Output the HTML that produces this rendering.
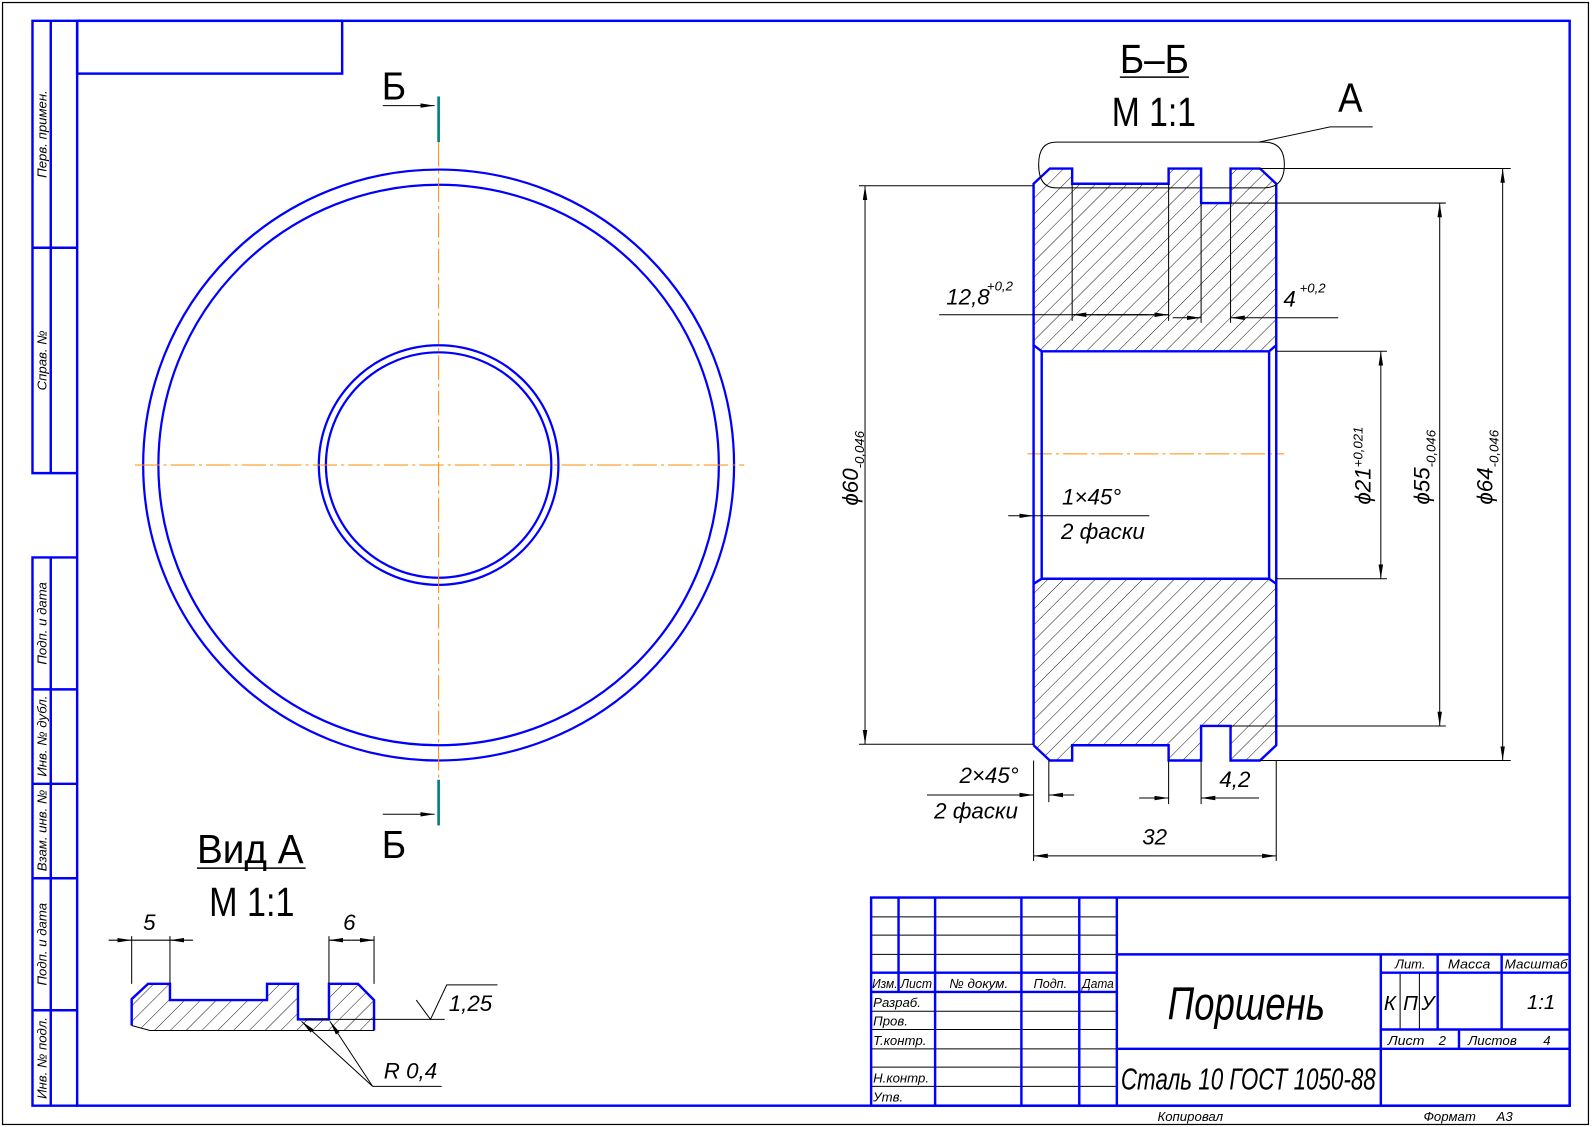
<!DOCTYPE html>
<html><head><meta charset="utf-8"><style>
html,body{margin:0;padding:0;background:#fff;overflow:hidden}
svg{display:block}
text{font-family:"Liberation Sans","DejaVu Sans",sans-serif;font-style:italic;fill:#000}
</style></head><body>
<svg width="1592" height="1127" viewBox="0 0 1568 1110" preserveAspectRatio="none" xmlns="http://www.w3.org/2000/svg">
<defs>
<pattern id="h" patternUnits="userSpaceOnUse" width="11" height="11" patternTransform="rotate(45)">
<line x1="0" y1="0" x2="0" y2="11" stroke="#000" stroke-width="0.9"/>
</pattern>
<marker id="a" viewBox="0 0 14 6" refX="14" refY="3" markerWidth="14" markerHeight="6" markerUnits="userSpaceOnUse" orient="auto-start-reverse">
<path d="M0,0.8 L14,3 L0,5.2 Z" fill="#000"/>
</marker>
</defs>

<rect x="2.5" y="2.5" width="1562" height="1105" fill="none" stroke="#000" stroke-width="1.2"/>

<g stroke="#0000ff" stroke-width="2.4" fill="none">
<rect x="76" y="20.5" width="1470" height="1068.5"/>
<rect x="76" y="20.5" width="261" height="52"/>
<path d="M76,20.5 H32 V466 H76 M50,20.5 V466 M32,244 H76"/>
<path d="M76,549 H32 V1089 H76 M50,549 V1089 M32,679 H76 M32,772 H76 M32,865 H76 M32,995 H76"/>
</g>
<g font-size="13">
<text transform="translate(46,132) rotate(-90)" text-anchor="middle">Перв. примен.</text>
<text transform="translate(46,355) rotate(-90)" text-anchor="middle">Справ. №</text>
<text transform="translate(46,614) rotate(-90)" text-anchor="middle">Подп. и дата</text>
<text transform="translate(46,725) rotate(-90)" text-anchor="middle">Инв. № дубл.</text>
<text transform="translate(46,818) rotate(-90)" text-anchor="middle">Взам. инв. №</text>
<text transform="translate(46,930) rotate(-90)" text-anchor="middle">Подп. и дата</text>
<text transform="translate(46,1042) rotate(-90)" text-anchor="middle">Инв. № подл.</text>
</g>

<g stroke="#0000ff" stroke-width="2.2" fill="none">
<circle cx="432" cy="458" r="291"/>
<circle cx="432" cy="458" r="276"/>
<circle cx="432" cy="458" r="118"/>
<circle cx="432" cy="458" r="111"/>
</g>
<g stroke="#ff8c00" stroke-width="1" stroke-dasharray="24,4,3,4">
<line x1="133" y1="458" x2="733" y2="458"/>
<line x1="432" y1="140" x2="432" y2="772"/>
<line x1="1012" y1="447" x2="1265" y2="447"/>
</g>
<g stroke="#008080" stroke-width="2.6">
<line x1="432" y1="95" x2="432" y2="140"/>
<line x1="432" y1="768" x2="432" y2="813"/>
</g>
<g stroke="#000" stroke-width="1">
<line x1="377" y1="104" x2="428" y2="104" marker-end="url(#a)"/>
<line x1="377" y1="802" x2="428" y2="802" marker-end="url(#a)"/>
</g>
<text x="376" y="98" font-size="38" style="font-style:normal" textLength="24" lengthAdjust="spacingAndGlyphs">Б</text>
<text x="376" y="845" font-size="38" style="font-style:normal" textLength="24" lengthAdjust="spacingAndGlyphs">Б</text>

<text x="1103" y="72" font-size="40" style="font-style:normal" textLength="68" lengthAdjust="spacingAndGlyphs">Б–Б</text>
<line x1="1103" y1="76" x2="1171" y2="76" stroke="#000" stroke-width="1.5"/>
<text x="1095" y="124" font-size="40" style="font-style:normal" textLength="83" lengthAdjust="spacingAndGlyphs">М 1:1</text>
<text x="1318" y="110" font-size="40" style="font-style:normal" textLength="24" lengthAdjust="spacingAndGlyphs">А</text>

<path d="M1018,181 L1034,166 L1056,166 L1056,181 L1151,181 L1151,166 L1183,166 L1183,200 L1212,200 L1212,166 L1241,166 L1257,181 L1257,340 L1250,346 L1026,346 L1018,340 Z" fill="url(#h)"/>
<path d="M1018,575 L1026,570 L1250,570 L1257,575 L1257,734 L1241,749 L1212,749 L1212,715 L1183,715 L1183,749 L1151,749 L1151,734 L1056,734 L1056,749 L1034,749 L1018,734 Z" fill="url(#h)"/>
<g stroke="#0000ff" stroke-width="2.4" fill="none">
<path d="M1018,734 V181 L1034,166 H1056 V181 H1151 V166 H1183 V200 H1212 V166 H1241 L1257,181 V734 L1241,749 H1212 V715 H1183 V749 H1151 V734 H1056 V749 H1034 L1018,734"/>
<path d="M1018,340 L1026,346 H1250 L1257,340 M1018,575 L1026,570 H1250 L1257,575 M1026,346 V570 M1250,346 V570"/>
</g>
<path d="M1040,140 H1245 Q1265,140 1265,162 Q1265,185 1245,185 H1040 Q1023,185 1023,162 Q1023,140 1040,140 Z" fill="none" stroke="#000" stroke-width="1"/>
<path d="M1240,140 L1310,125 H1352" fill="none" stroke="#000" stroke-width="1"/>

<g stroke="#000" stroke-width="1" fill="none">
<path d="M1056,181 V316 M1151,181 V316 M1183,200 V318 M1212,200 V318"/>
<line x1="925" y1="310" x2="1151" y2="310"/>
<line x1="1130" y1="310" x2="1056" y2="310" marker-end="url(#a)"/>
<line x1="1080" y1="310" x2="1151" y2="310" marker-end="url(#a)"/>
<line x1="1155" y1="313" x2="1183" y2="313" marker-end="url(#a)"/>
<line x1="1318" y1="313" x2="1212" y2="313" marker-end="url(#a)"/>
<path d="M846,183 H1018 M846,733 H1018"/>
<line x1="852" y1="458" x2="852" y2="183" marker-end="url(#a)"/>
<line x1="852" y1="458" x2="852" y2="733" marker-end="url(#a)"/>
<path d="M1257,346 H1366 M1257,570 H1366"/>
<line x1="1360" y1="458" x2="1360" y2="346" marker-end="url(#a)"/>
<line x1="1360" y1="458" x2="1360" y2="570" marker-end="url(#a)"/>
<path d="M1212,200 H1424 M1212,715 H1424"/>
<line x1="1418" y1="458" x2="1418" y2="200" marker-end="url(#a)"/>
<line x1="1418" y1="458" x2="1418" y2="715" marker-end="url(#a)"/>
<path d="M1241,166 H1488 M1241,749 H1488"/>
<line x1="1480" y1="458" x2="1480" y2="166" marker-end="url(#a)"/>
<line x1="1480" y1="458" x2="1480" y2="749" marker-end="url(#a)"/>
<line x1="993" y1="508" x2="1018" y2="508" marker-end="url(#a)"/>
<line x1="1018" y1="508" x2="1132" y2="508"/>
<path d="M1033,749 V790 M1151,749 V792 M1183,749 V792 M1018,749 V848 M1257,749 V848"/>
<line x1="913" y1="783" x2="1018" y2="783" marker-end="url(#a)"/>
<line x1="1058" y1="783" x2="1033" y2="783" marker-end="url(#a)"/>
<line x1="1122" y1="786" x2="1151" y2="786" marker-end="url(#a)"/>
<line x1="1240" y1="786" x2="1183" y2="786" marker-end="url(#a)"/>
<line x1="1138" y1="843" x2="1018" y2="843" marker-end="url(#a)"/>
<line x1="1138" y1="843" x2="1257" y2="843" marker-end="url(#a)"/>
</g>
<g font-size="22">
<text x="932" y="300">12,8</text><text x="972" y="286" font-size="13">+0,2</text>
<text x="1264" y="302">4</text><text x="1280" y="288" font-size="13">+0,2</text>
<text x="1046" y="497">1×45°</text>
<text x="1045" y="531">2 фаски</text>
<text x="945" y="771">2×45°</text>
<text x="920" y="806">2 фаски</text>
<text x="1201" y="775">4,2</text>
<text x="1125" y="832">32</text>
<text transform="translate(845,498) rotate(-90)">ϕ60<tspan font-size="13" dy="6">-0,046</tspan></text>
<text transform="translate(1350,497) rotate(-90)">ϕ21<tspan font-size="13" dy="-8">+0,021</tspan></text>
<text transform="translate(1408,497) rotate(-90)">ϕ55<tspan font-size="13" dy="6">-0,046</tspan></text>
<text transform="translate(1470,497) rotate(-90)">ϕ64<tspan font-size="13" dy="6">-0,046</tspan></text>
</g>

<text x="194" y="850" font-size="40" style="font-style:normal" textLength="105" lengthAdjust="spacingAndGlyphs">Вид А</text>
<line x1="194" y1="855" x2="301" y2="855" stroke="#000" stroke-width="1.5"/>
<text x="206" y="902" font-size="40" style="font-style:normal" textLength="84" lengthAdjust="spacingAndGlyphs">М 1:1</text>
<path d="M129.7,984 L145.8,969 L167.4,969 L167.4,985 L263,985 L263,969 L293.5,969 L293.5,1004 L324,1004 L324,969 L352.6,969 L368.4,985 L368.4,1015 L147.7,1015 L129.7,1010 Z" fill="url(#h)"/>
<path d="M129.7,1010 V984 L145.8,969 H167.4 V985 H263 V969 H293.5 V1004 H324 V969 H352.6 L368.4,985 V1015" fill="none" stroke="#0000ff" stroke-width="2.4"/>
<g stroke="#000" stroke-width="1" fill="none">
<path d="M368.4,1015 H147.7 L129.7,1010"/>
<path d="M129.7,969 V922 M167.4,969 V922 M324,969 V922 M368.4,969 V922"/>
<line x1="107" y1="926" x2="129.7" y2="926" marker-end="url(#a)"/>
<line x1="190" y1="926" x2="167.4" y2="926" marker-end="url(#a)"/>
<line x1="129.7" y1="926" x2="167.4" y2="926"/>
<line x1="346" y1="926" x2="324" y2="926" marker-end="url(#a)"/>
<line x1="346" y1="926" x2="368.4" y2="926" marker-end="url(#a)"/>
<path d="M300,1004 H438 M410,985 L424,1004 L440,970 H490"/>
<line x1="367" y1="1070" x2="297" y2="1006" marker-end="url(#a)"/>
<line x1="367" y1="1070" x2="325" y2="1006" marker-end="url(#a)"/>
<path d="M367,1070 H435"/>
</g>
<g font-size="22">
<text x="141" y="916">5</text>
<text x="338" y="916">6</text>
<text x="442" y="996">1,25</text>
<text x="378" y="1062">R 0,4</text>
</g>

<g stroke="#000" stroke-width="1" fill="none">
<path d="M858,903 H1100 M858,921 H1100 M858,940 H1100 M858,996 H1100 M858,1014 H1100 M858,1033 H1100 M858,1051 H1100 M858,1070 H1100"/>
<path d="M1379,958 V1014 M1398,958 V1014"/>
</g>
<g stroke="#0000ff" stroke-width="2.4" fill="none">
<rect x="858" y="884" width="688" height="205"/>
<path d="M858,958 H1100 M858,977 H1100"/>
<path d="M885,884 V977 M921,884 V1089 M1006,884 V1089 M1063,884 V1089 M1100,884 V1089"/>
<path d="M1100,940 H1546 M1100,1033 H1360 M1360,940 V1089 M1360,958 H1546 M1360,1014 H1546 M1360,1033 H1546 M1416,940 V1014 M1479,940 V1014 M1437,1014 V1033"/>
</g>
<g font-size="13" lengthAdjust="spacingAndGlyphs">
<text x="859" y="973" textLength="25" lengthAdjust="spacingAndGlyphs">Изм.</text>
<text x="887" y="973" textLength="31" lengthAdjust="spacingAndGlyphs">Лист</text>
<text x="935" y="973" textLength="58" lengthAdjust="spacingAndGlyphs">№ докум.</text>
<text x="1018" y="973" textLength="33" lengthAdjust="spacingAndGlyphs">Подп.</text>
<text x="1066" y="973" textLength="31" lengthAdjust="spacingAndGlyphs">Дата</text>
<text x="860" y="992">Разраб.</text>
<text x="860" y="1010">Пров.</text>
<text x="860" y="1029">Т.контр.</text>
<text x="860" y="1066">Н.контр.</text>
<text x="860" y="1085">Утв.</text>
<text x="1374" y="954" textLength="30" lengthAdjust="spacingAndGlyphs">Лит.</text>
<text x="1426" y="954" textLength="42" lengthAdjust="spacingAndGlyphs">Масса</text>
<text x="1482" y="954" textLength="62" lengthAdjust="spacingAndGlyphs">Масштаб</text>
<text x="1367" y="1029" textLength="36" lengthAdjust="spacingAndGlyphs">Лист</text><text x="1417" y="1029">2</text>
<text x="1446" y="1029" textLength="48" lengthAdjust="spacingAndGlyphs">Листов</text><text x="1520" y="1029">4</text>
<text x="1140" y="1104">Копировал</text>
<text x="1402" y="1104">Формат</text><text x="1474" y="1104">А3</text>
</g>
<g font-size="20">
<text x="1363" y="995">К</text><text x="1382" y="995">П</text><text x="1400" y="995">У</text>
<text x="1504" y="994">1:1</text>
</g>
<text x="1150" y="1004" font-size="46" textLength="155" lengthAdjust="spacingAndGlyphs">Поршень</text>
<text x="1104" y="1073" font-size="30" textLength="251" lengthAdjust="spacingAndGlyphs">Сталь 10  ГОСТ 1050-88</text>
</svg>
</body></html>
